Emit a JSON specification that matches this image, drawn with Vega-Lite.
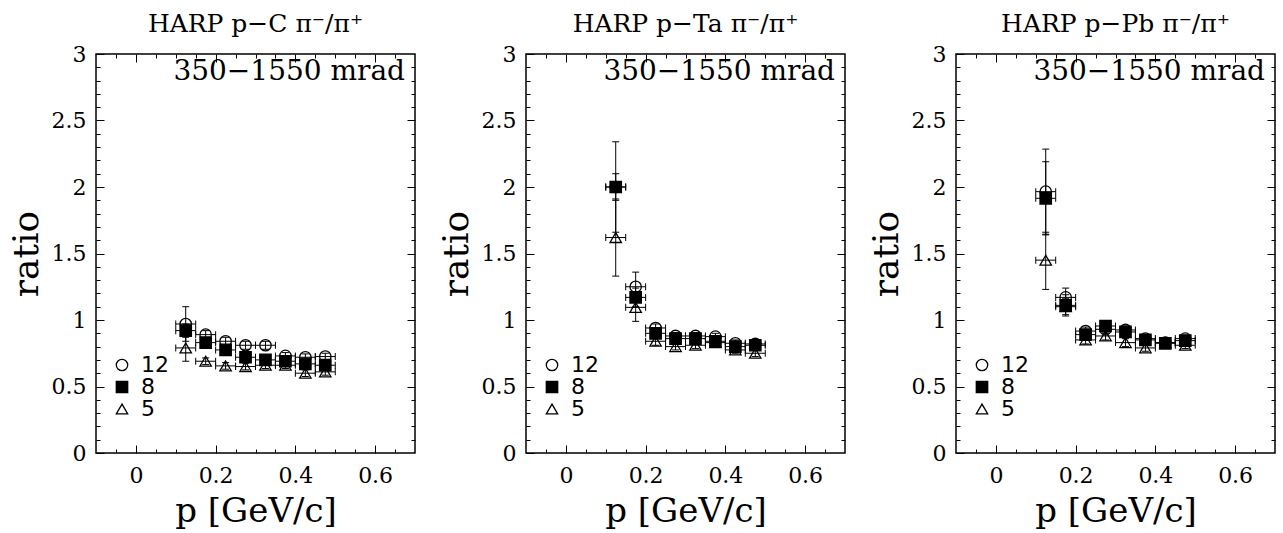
{
  "$schema": "https://vega.github.io/schema/vega-lite/v6.json",
  "padding": {"left": 7, "top": 11, "right": 0, "bottom": 0},
  "bounds": "flush",
  "spacing": 111,
  "datasets": {
    "ann": [{"t": "350−1550 mrad"}],
    "c": [
      {"n": "5", "p": 0.125, "pl": 0.1, "ph": 0.15, "v": 0.79, "lo": 0.69, "hi": 0.89},
      {"n": "5", "p": 0.175, "pl": 0.15, "ph": 0.2, "v": 0.69, "lo": 0.665, "hi": 0.715},
      {"n": "5", "p": 0.225, "pl": 0.2, "ph": 0.25, "v": 0.655, "lo": 0.63, "hi": 0.68},
      {"n": "5", "p": 0.275, "pl": 0.25, "ph": 0.3, "v": 0.65, "lo": 0.625, "hi": 0.675},
      {"n": "5", "p": 0.325, "pl": 0.3, "ph": 0.35, "v": 0.66, "lo": 0.635, "hi": 0.685},
      {"n": "5", "p": 0.375, "pl": 0.35, "ph": 0.4, "v": 0.66, "lo": 0.635, "hi": 0.685},
      {"n": "5", "p": 0.425, "pl": 0.4, "ph": 0.45, "v": 0.6, "lo": 0.575, "hi": 0.625},
      {"n": "5", "p": 0.475, "pl": 0.45, "ph": 0.5, "v": 0.61, "lo": 0.585, "hi": 0.635},
      {"n": "12", "p": 0.125, "pl": 0.1, "ph": 0.15, "v": 0.97, "lo": 0.84, "hi": 1.1},
      {"n": "12", "p": 0.175, "pl": 0.15, "ph": 0.2, "v": 0.89, "lo": 0.86, "hi": 0.92},
      {"n": "12", "p": 0.225, "pl": 0.2, "ph": 0.25, "v": 0.84, "lo": 0.81, "hi": 0.87},
      {"n": "12", "p": 0.275, "pl": 0.25, "ph": 0.3, "v": 0.81, "lo": 0.78, "hi": 0.84},
      {"n": "12", "p": 0.325, "pl": 0.3, "ph": 0.35, "v": 0.81, "lo": 0.78, "hi": 0.84},
      {"n": "12", "p": 0.375, "pl": 0.35, "ph": 0.4, "v": 0.73, "lo": 0.705, "hi": 0.755},
      {"n": "12", "p": 0.425, "pl": 0.4, "ph": 0.45, "v": 0.72, "lo": 0.695, "hi": 0.745},
      {"n": "12", "p": 0.475, "pl": 0.45, "ph": 0.5, "v": 0.725, "lo": 0.7, "hi": 0.75},
      {"n": "8", "p": 0.125, "pl": 0.1, "ph": 0.15, "v": 0.92, "lo": 0.87, "hi": 0.97},
      {"n": "8", "p": 0.175, "pl": 0.15, "ph": 0.2, "v": 0.83, "lo": 0.8, "hi": 0.86},
      {"n": "8", "p": 0.225, "pl": 0.2, "ph": 0.25, "v": 0.775, "lo": 0.745, "hi": 0.805},
      {"n": "8", "p": 0.275, "pl": 0.25, "ph": 0.3, "v": 0.72, "lo": 0.695, "hi": 0.745},
      {"n": "8", "p": 0.325, "pl": 0.3, "ph": 0.35, "v": 0.7, "lo": 0.675, "hi": 0.725},
      {"n": "8", "p": 0.375, "pl": 0.35, "ph": 0.4, "v": 0.69, "lo": 0.665, "hi": 0.715},
      {"n": "8", "p": 0.425, "pl": 0.4, "ph": 0.45, "v": 0.67, "lo": 0.645, "hi": 0.695},
      {"n": "8", "p": 0.475, "pl": 0.45, "ph": 0.5, "v": 0.66, "lo": 0.635, "hi": 0.685}
    ],
    "ta": [
      {"n": "5", "p": 0.125, "pl": 0.1, "ph": 0.15, "v": 1.62, "lo": 1.33, "hi": 1.91},
      {"n": "5", "p": 0.175, "pl": 0.15, "ph": 0.2, "v": 1.095, "lo": 0.99, "hi": 1.2},
      {"n": "5", "p": 0.225, "pl": 0.2, "ph": 0.25, "v": 0.84, "lo": 0.81, "hi": 0.87},
      {"n": "5", "p": 0.275, "pl": 0.25, "ph": 0.3, "v": 0.8, "lo": 0.775, "hi": 0.825},
      {"n": "5", "p": 0.325, "pl": 0.3, "ph": 0.35, "v": 0.81, "lo": 0.785, "hi": 0.835},
      {"n": "5", "p": 0.375, "pl": 0.35, "ph": 0.4, "v": 0.83, "lo": 0.805, "hi": 0.855},
      {"n": "5", "p": 0.425, "pl": 0.4, "ph": 0.45, "v": 0.775, "lo": 0.75, "hi": 0.8},
      {"n": "5", "p": 0.475, "pl": 0.45, "ph": 0.5, "v": 0.75, "lo": 0.725, "hi": 0.775},
      {"n": "12", "p": 0.125, "pl": 0.1, "ph": 0.15, "v": 2.0, "lo": 1.66, "hi": 2.34},
      {"n": "12", "p": 0.175, "pl": 0.15, "ph": 0.2, "v": 1.25, "lo": 1.14, "hi": 1.36},
      {"n": "12", "p": 0.225, "pl": 0.2, "ph": 0.25, "v": 0.94, "lo": 0.91, "hi": 0.97},
      {"n": "12", "p": 0.275, "pl": 0.25, "ph": 0.3, "v": 0.88, "lo": 0.855, "hi": 0.905},
      {"n": "12", "p": 0.325, "pl": 0.3, "ph": 0.35, "v": 0.88, "lo": 0.855, "hi": 0.905},
      {"n": "12", "p": 0.375, "pl": 0.35, "ph": 0.4, "v": 0.875, "lo": 0.85, "hi": 0.9},
      {"n": "12", "p": 0.425, "pl": 0.4, "ph": 0.45, "v": 0.825, "lo": 0.8, "hi": 0.85},
      {"n": "12", "p": 0.475, "pl": 0.45, "ph": 0.5, "v": 0.82, "lo": 0.795, "hi": 0.845},
      {"n": "8", "p": 0.125, "pl": 0.1, "ph": 0.15, "v": 2.0, "lo": 1.9, "hi": 2.1},
      {"n": "8", "p": 0.175, "pl": 0.15, "ph": 0.2, "v": 1.17, "lo": 1.1, "hi": 1.24},
      {"n": "8", "p": 0.225, "pl": 0.2, "ph": 0.25, "v": 0.9, "lo": 0.87, "hi": 0.93},
      {"n": "8", "p": 0.275, "pl": 0.25, "ph": 0.3, "v": 0.86, "lo": 0.835, "hi": 0.885},
      {"n": "8", "p": 0.325, "pl": 0.3, "ph": 0.35, "v": 0.86, "lo": 0.835, "hi": 0.885},
      {"n": "8", "p": 0.375, "pl": 0.35, "ph": 0.4, "v": 0.84, "lo": 0.815, "hi": 0.865},
      {"n": "8", "p": 0.425, "pl": 0.4, "ph": 0.45, "v": 0.8, "lo": 0.775, "hi": 0.825},
      {"n": "8", "p": 0.475, "pl": 0.45, "ph": 0.5, "v": 0.81, "lo": 0.785, "hi": 0.835}
    ],
    "pb": [
      {"n": "5", "p": 0.125, "pl": 0.1, "ph": 0.15, "v": 1.45, "lo": 1.23, "hi": 1.66},
      {"n": "5", "p": 0.175, "pl": 0.15, "ph": 0.2, "v": 1.1, "lo": 1.04, "hi": 1.16},
      {"n": "5", "p": 0.225, "pl": 0.2, "ph": 0.25, "v": 0.85, "lo": 0.82, "hi": 0.88},
      {"n": "5", "p": 0.275, "pl": 0.25, "ph": 0.3, "v": 0.88, "lo": 0.85, "hi": 0.91},
      {"n": "5", "p": 0.325, "pl": 0.3, "ph": 0.35, "v": 0.83, "lo": 0.8, "hi": 0.86},
      {"n": "5", "p": 0.375, "pl": 0.35, "ph": 0.4, "v": 0.79, "lo": 0.765, "hi": 0.815},
      {"n": "5", "p": 0.425, "pl": 0.4, "ph": 0.45, "v": 0.83, "lo": 0.805, "hi": 0.855},
      {"n": "5", "p": 0.475, "pl": 0.45, "ph": 0.5, "v": 0.81, "lo": 0.785, "hi": 0.835},
      {"n": "12", "p": 0.125, "pl": 0.1, "ph": 0.15, "v": 1.965, "lo": 1.645, "hi": 2.285},
      {"n": "12", "p": 0.175, "pl": 0.15, "ph": 0.2, "v": 1.17, "lo": 1.1, "hi": 1.24},
      {"n": "12", "p": 0.225, "pl": 0.2, "ph": 0.25, "v": 0.917, "lo": 0.887, "hi": 0.947},
      {"n": "12", "p": 0.275, "pl": 0.25, "ph": 0.3, "v": 0.93, "lo": 0.9, "hi": 0.96},
      {"n": "12", "p": 0.325, "pl": 0.3, "ph": 0.35, "v": 0.925, "lo": 0.895, "hi": 0.955},
      {"n": "12", "p": 0.375, "pl": 0.35, "ph": 0.4, "v": 0.86, "lo": 0.835, "hi": 0.885},
      {"n": "12", "p": 0.425, "pl": 0.4, "ph": 0.45, "v": 0.83, "lo": 0.805, "hi": 0.855},
      {"n": "12", "p": 0.475, "pl": 0.45, "ph": 0.5, "v": 0.86, "lo": 0.835, "hi": 0.885},
      {"n": "8", "p": 0.125, "pl": 0.1, "ph": 0.15, "v": 1.915, "lo": 1.64, "hi": 2.19},
      {"n": "8", "p": 0.175, "pl": 0.15, "ph": 0.2, "v": 1.11, "lo": 1.03, "hi": 1.19},
      {"n": "8", "p": 0.225, "pl": 0.2, "ph": 0.25, "v": 0.89, "lo": 0.86, "hi": 0.92},
      {"n": "8", "p": 0.275, "pl": 0.25, "ph": 0.3, "v": 0.955, "lo": 0.925, "hi": 0.985},
      {"n": "8", "p": 0.325, "pl": 0.3, "ph": 0.35, "v": 0.91, "lo": 0.88, "hi": 0.94},
      {"n": "8", "p": 0.375, "pl": 0.35, "ph": 0.4, "v": 0.85, "lo": 0.825, "hi": 0.875},
      {"n": "8", "p": 0.425, "pl": 0.4, "ph": 0.45, "v": 0.825, "lo": 0.8, "hi": 0.85},
      {"n": "8", "p": 0.475, "pl": 0.45, "ph": 0.5, "v": 0.845, "lo": 0.82, "hi": 0.87}
    ]
  },
  "resolve": {
    "scale": {"shape": "independent", "fill": "independent", "stroke": "independent"},
    "legend": {"shape": "independent", "fill": "independent", "stroke": "independent"}
  },
  "hconcat": [
    {
      "width": 319, "height": 399,
      "title": "HARP p−C π⁻/π⁺",
      "data": {"name": "c"},
      "resolve": {"axis": {"x": "independent", "y": "independent"}},
      "layer": [
        {"mark": "rule", "encoding": {
          "x": {"field": "pl", "type": "quantitative", "scale": {"domain": [-0.1, 0.7], "nice": false, "zero": false}, "axis": {"values": [0, 0.2, 0.4, 0.6], "tickSize": -8, "labelPadding": 20, "title": "p [GeV/c]"}},
          "x2": {"field": "ph"},
          "y": {"field": "v", "type": "quantitative", "scale": {"domain": [0, 3], "nice": false, "zero": false}, "axis": {"values": [0, 0.5, 1, 1.5, 2, 2.5, 3], "tickSize": -8, "labelPadding": 18, "title": "ratio"}}
        }},
        {"mark": "rule", "encoding": {
          "x": {"field": "p", "type": "quantitative", "axis": {"orient": "bottom", "labels": false, "title": null, "tickSize": -4, "values": [-0.05, 0.05, 0.1, 0.15, 0.25, 0.3, 0.35, 0.45, 0.5, 0.55, 0.65]}},
          "y": {"field": "lo", "type": "quantitative", "axis": {"orient": "left", "labels": false, "title": null, "tickSize": -4, "values": [0.1, 0.2, 0.3, 0.4, 0.6, 0.7, 0.8, 0.9, 1.1, 1.2, 1.3, 1.4, 1.6, 1.7, 1.8, 1.9, 2.1, 2.2, 2.3, 2.4, 2.6, 2.7, 2.8, 2.9]}},
          "y2": {"field": "hi"}
        }},
        {"mark": {"type": "tick", "orient": "vertical"}, "encoding": {
          "x": {"field": "pl", "type": "quantitative", "axis": {"orient": "top", "labels": false, "title": null, "tickSize": -8, "values": [0, 0.2, 0.4, 0.6]}},
          "y": {"field": "v", "type": "quantitative", "axis": {"orient": "right", "labels": false, "title": null, "tickSize": -8, "values": [0.5, 1, 1.5, 2, 2.5]}}
        }},
        {"mark": {"type": "tick", "orient": "vertical"}, "encoding": {
          "x": {"field": "ph", "type": "quantitative", "axis": {"orient": "top", "labels": false, "title": null, "tickSize": -4, "values": [-0.05, 0.05, 0.1, 0.15, 0.25, 0.3, 0.35, 0.45, 0.5, 0.55, 0.65]}},
          "y": {"field": "v", "type": "quantitative", "axis": {"orient": "right", "labels": false, "title": null, "tickSize": -4, "values": [0.1, 0.2, 0.3, 0.4, 0.6, 0.7, 0.8, 0.9, 1.1, 1.2, 1.3, 1.4, 1.6, 1.7, 1.8, 1.9, 2.1, 2.2, 2.3, 2.4, 2.6, 2.7, 2.8, 2.9]}}
        }},
        {"mark": {"type": "tick", "orient": "horizontal"}, "encoding": {
          "x": {"field": "p", "type": "quantitative", "axis": null},
          "y": {"field": "lo", "type": "quantitative", "axis": null}
        }},
        {"mark": {"type": "tick", "orient": "horizontal"}, "encoding": {
          "x": {"field": "p", "type": "quantitative", "axis": null},
          "y": {"field": "hi", "type": "quantitative", "axis": null}
        }},
        {"mark": {"type": "point", "filled": false, "strokeWidth": 1.3, "size": 130, "opacity": 1}, "encoding": {
          "x": {"field": "p", "type": "quantitative", "axis": null},
          "y": {"field": "v", "type": "quantitative", "axis": null},
          "shape": {"field": "n", "type": "nominal", "scale": {"domain": ["12", "8", "5"], "range": ["circle", "square", "triangle-up"]}, "legend": {"orient": "none", "legendX": 15, "legendY": 300, "title": null}},
          "fill": {"field": "n", "type": "nominal", "scale": {"domain": ["12", "8", "5"], "range": ["transparent", "black", "transparent"]}, "legend": {"orient": "none", "legendX": 15, "legendY": 300, "title": null}},
          "stroke": {"field": "n", "type": "nominal", "scale": {"domain": ["12", "8", "5"], "range": ["black", "black", "black"]}, "legend": {"orient": "none", "legendX": 15, "legendY": 300, "title": null}}
        }},
        {"data": {"name": "ann"}, "mark": {"type": "text", "align": "right", "baseline": "middle", "font": "DejaVu Serif", "fontSize": 28, "color": "black"}, "encoding": {
          "x": {"datum": 0.675, "type": "quantitative", "axis": null},
          "y": {"datum": 2.865, "type": "quantitative", "axis": null},
          "text": {"field": "t"}
        }}
      ]
    },
    {
      "width": 319, "height": 399,
      "title": "HARP p−Ta π⁻/π⁺",
      "data": {"name": "ta"},
      "resolve": {"axis": {"x": "independent", "y": "independent"}},
      "layer": [
        {"mark": "rule", "encoding": {
          "x": {"field": "pl", "type": "quantitative", "scale": {"domain": [-0.1, 0.7], "nice": false, "zero": false}, "axis": {"values": [0, 0.2, 0.4, 0.6], "tickSize": -8, "labelPadding": 20, "title": "p [GeV/c]"}},
          "x2": {"field": "ph"},
          "y": {"field": "v", "type": "quantitative", "scale": {"domain": [0, 3], "nice": false, "zero": false}, "axis": {"values": [0, 0.5, 1, 1.5, 2, 2.5, 3], "tickSize": -8, "labelPadding": 18, "title": "ratio"}}
        }},
        {"mark": "rule", "encoding": {
          "x": {"field": "p", "type": "quantitative", "axis": {"orient": "bottom", "labels": false, "title": null, "tickSize": -4, "values": [-0.05, 0.05, 0.1, 0.15, 0.25, 0.3, 0.35, 0.45, 0.5, 0.55, 0.65]}},
          "y": {"field": "lo", "type": "quantitative", "axis": {"orient": "left", "labels": false, "title": null, "tickSize": -4, "values": [0.1, 0.2, 0.3, 0.4, 0.6, 0.7, 0.8, 0.9, 1.1, 1.2, 1.3, 1.4, 1.6, 1.7, 1.8, 1.9, 2.1, 2.2, 2.3, 2.4, 2.6, 2.7, 2.8, 2.9]}},
          "y2": {"field": "hi"}
        }},
        {"mark": {"type": "tick", "orient": "vertical"}, "encoding": {
          "x": {"field": "pl", "type": "quantitative", "axis": {"orient": "top", "labels": false, "title": null, "tickSize": -8, "values": [0, 0.2, 0.4, 0.6]}},
          "y": {"field": "v", "type": "quantitative", "axis": {"orient": "right", "labels": false, "title": null, "tickSize": -8, "values": [0.5, 1, 1.5, 2, 2.5]}}
        }},
        {"mark": {"type": "tick", "orient": "vertical"}, "encoding": {
          "x": {"field": "ph", "type": "quantitative", "axis": {"orient": "top", "labels": false, "title": null, "tickSize": -4, "values": [-0.05, 0.05, 0.1, 0.15, 0.25, 0.3, 0.35, 0.45, 0.5, 0.55, 0.65]}},
          "y": {"field": "v", "type": "quantitative", "axis": {"orient": "right", "labels": false, "title": null, "tickSize": -4, "values": [0.1, 0.2, 0.3, 0.4, 0.6, 0.7, 0.8, 0.9, 1.1, 1.2, 1.3, 1.4, 1.6, 1.7, 1.8, 1.9, 2.1, 2.2, 2.3, 2.4, 2.6, 2.7, 2.8, 2.9]}}
        }},
        {"mark": {"type": "tick", "orient": "horizontal"}, "encoding": {
          "x": {"field": "p", "type": "quantitative", "axis": null},
          "y": {"field": "lo", "type": "quantitative", "axis": null}
        }},
        {"mark": {"type": "tick", "orient": "horizontal"}, "encoding": {
          "x": {"field": "p", "type": "quantitative", "axis": null},
          "y": {"field": "hi", "type": "quantitative", "axis": null}
        }},
        {"mark": {"type": "point", "filled": false, "strokeWidth": 1.3, "size": 130, "opacity": 1}, "encoding": {
          "x": {"field": "p", "type": "quantitative", "axis": null},
          "y": {"field": "v", "type": "quantitative", "axis": null},
          "shape": {"field": "n", "type": "nominal", "scale": {"domain": ["12", "8", "5"], "range": ["circle", "square", "triangle-up"]}, "legend": {"orient": "none", "legendX": 15, "legendY": 300, "title": null}},
          "fill": {"field": "n", "type": "nominal", "scale": {"domain": ["12", "8", "5"], "range": ["transparent", "black", "transparent"]}, "legend": {"orient": "none", "legendX": 15, "legendY": 300, "title": null}},
          "stroke": {"field": "n", "type": "nominal", "scale": {"domain": ["12", "8", "5"], "range": ["black", "black", "black"]}, "legend": {"orient": "none", "legendX": 15, "legendY": 300, "title": null}}
        }},
        {"data": {"name": "ann"}, "mark": {"type": "text", "align": "right", "baseline": "middle", "font": "DejaVu Serif", "fontSize": 28, "color": "black"}, "encoding": {
          "x": {"datum": 0.675, "type": "quantitative", "axis": null},
          "y": {"datum": 2.865, "type": "quantitative", "axis": null},
          "text": {"field": "t"}
        }}
      ]
    },
    {
      "width": 319, "height": 399,
      "title": "HARP p−Pb π⁻/π⁺",
      "data": {"name": "pb"},
      "resolve": {"axis": {"x": "independent", "y": "independent"}},
      "layer": [
        {"mark": "rule", "encoding": {
          "x": {"field": "pl", "type": "quantitative", "scale": {"domain": [-0.1, 0.7], "nice": false, "zero": false}, "axis": {"values": [0, 0.2, 0.4, 0.6], "tickSize": -8, "labelPadding": 20, "title": "p [GeV/c]"}},
          "x2": {"field": "ph"},
          "y": {"field": "v", "type": "quantitative", "scale": {"domain": [0, 3], "nice": false, "zero": false}, "axis": {"values": [0, 0.5, 1, 1.5, 2, 2.5, 3], "tickSize": -8, "labelPadding": 18, "title": "ratio"}}
        }},
        {"mark": "rule", "encoding": {
          "x": {"field": "p", "type": "quantitative", "axis": {"orient": "bottom", "labels": false, "title": null, "tickSize": -4, "values": [-0.05, 0.05, 0.1, 0.15, 0.25, 0.3, 0.35, 0.45, 0.5, 0.55, 0.65]}},
          "y": {"field": "lo", "type": "quantitative", "axis": {"orient": "left", "labels": false, "title": null, "tickSize": -4, "values": [0.1, 0.2, 0.3, 0.4, 0.6, 0.7, 0.8, 0.9, 1.1, 1.2, 1.3, 1.4, 1.6, 1.7, 1.8, 1.9, 2.1, 2.2, 2.3, 2.4, 2.6, 2.7, 2.8, 2.9]}},
          "y2": {"field": "hi"}
        }},
        {"mark": {"type": "tick", "orient": "vertical"}, "encoding": {
          "x": {"field": "pl", "type": "quantitative", "axis": {"orient": "top", "labels": false, "title": null, "tickSize": -8, "values": [0, 0.2, 0.4, 0.6]}},
          "y": {"field": "v", "type": "quantitative", "axis": {"orient": "right", "labels": false, "title": null, "tickSize": -8, "values": [0.5, 1, 1.5, 2, 2.5]}}
        }},
        {"mark": {"type": "tick", "orient": "vertical"}, "encoding": {
          "x": {"field": "ph", "type": "quantitative", "axis": {"orient": "top", "labels": false, "title": null, "tickSize": -4, "values": [-0.05, 0.05, 0.1, 0.15, 0.25, 0.3, 0.35, 0.45, 0.5, 0.55, 0.65]}},
          "y": {"field": "v", "type": "quantitative", "axis": {"orient": "right", "labels": false, "title": null, "tickSize": -4, "values": [0.1, 0.2, 0.3, 0.4, 0.6, 0.7, 0.8, 0.9, 1.1, 1.2, 1.3, 1.4, 1.6, 1.7, 1.8, 1.9, 2.1, 2.2, 2.3, 2.4, 2.6, 2.7, 2.8, 2.9]}}
        }},
        {"mark": {"type": "tick", "orient": "horizontal"}, "encoding": {
          "x": {"field": "p", "type": "quantitative", "axis": null},
          "y": {"field": "lo", "type": "quantitative", "axis": null}
        }},
        {"mark": {"type": "tick", "orient": "horizontal"}, "encoding": {
          "x": {"field": "p", "type": "quantitative", "axis": null},
          "y": {"field": "hi", "type": "quantitative", "axis": null}
        }},
        {"mark": {"type": "point", "filled": false, "strokeWidth": 1.3, "size": 130, "opacity": 1}, "encoding": {
          "x": {"field": "p", "type": "quantitative", "axis": null},
          "y": {"field": "v", "type": "quantitative", "axis": null},
          "shape": {"field": "n", "type": "nominal", "scale": {"domain": ["12", "8", "5"], "range": ["circle", "square", "triangle-up"]}, "legend": {"orient": "none", "legendX": 15, "legendY": 300, "title": null}},
          "fill": {"field": "n", "type": "nominal", "scale": {"domain": ["12", "8", "5"], "range": ["transparent", "black", "transparent"]}, "legend": {"orient": "none", "legendX": 15, "legendY": 300, "title": null}},
          "stroke": {"field": "n", "type": "nominal", "scale": {"domain": ["12", "8", "5"], "range": ["black", "black", "black"]}, "legend": {"orient": "none", "legendX": 15, "legendY": 300, "title": null}}
        }},
        {"data": {"name": "ann"}, "mark": {"type": "text", "align": "right", "baseline": "middle", "font": "DejaVu Serif", "fontSize": 28, "color": "black"}, "encoding": {
          "x": {"datum": 0.675, "type": "quantitative", "axis": null},
          "y": {"datum": 2.865, "type": "quantitative", "axis": null},
          "text": {"field": "t"}
        }}
      ]
    }
  ],
  "config": {
    "font": "DejaVu Serif",
    "view": {"stroke": "black", "strokeWidth": 1.5},
    "title": {"font": "DejaVu Serif", "fontSize": 25, "fontWeight": "normal", "color": "black", "offset": 6},
    "axis": {
      "domain": false, "grid": false,
      "labelFont": "DejaVu Serif", "labelFontSize": 22, "labelColor": "black",
      "labelFlush": false, "labelOverlap": false, "format": "~g",
      "tickColor": "black", "tickWidth": 1,
      "titleFont": "DejaVu Serif", "titleFontSize": 34, "titleFontWeight": "normal", "titleColor": "black"
    },
    "axisX": {"titlePadding": 8},
    "axisY": {"titleFontSize": 36, "titlePadding": 6},
    "rule": {"color": "black", "strokeWidth": 1},
    "tick": {"color": "black", "thickness": 1, "size": 7, "opacity": 1},
    "legend": {
      "labelFont": "DejaVu Sans", "labelFontSize": 22, "labelColor": "black",
      "symbolSize": 130, "symbolStrokeWidth": 1.3,
      "labelOffset": 8, "rowPadding": -4, "padding": 0
    }
  }
}
